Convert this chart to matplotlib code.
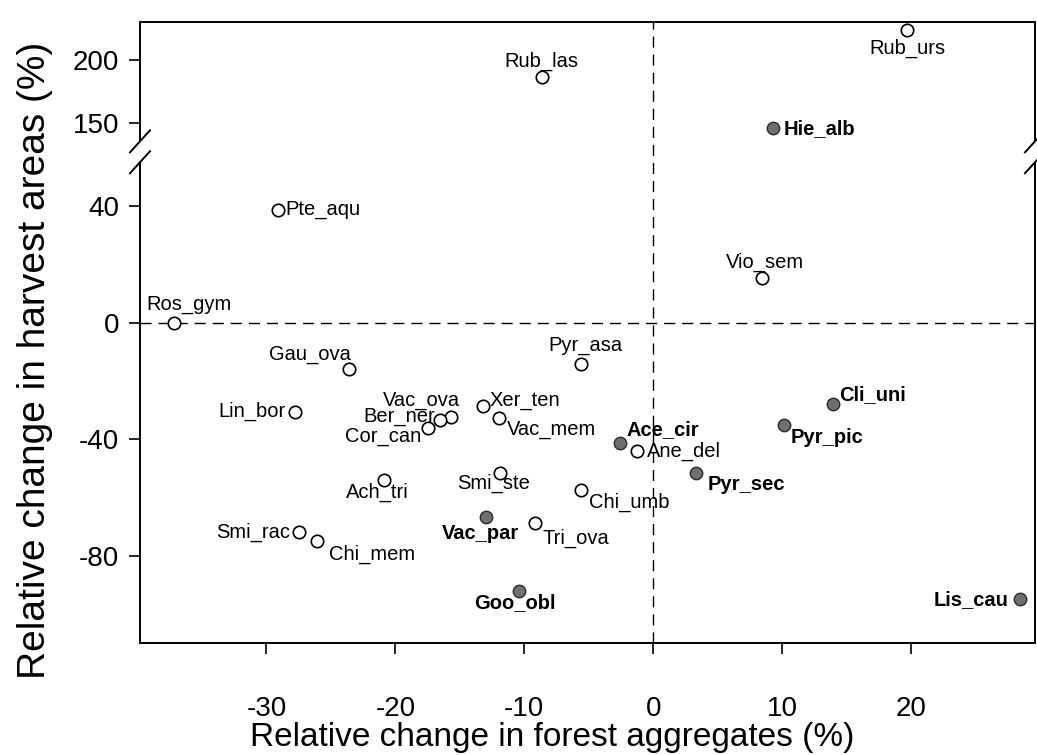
import numpy as np
import matplotlib
matplotlib.use("Agg")
import matplotlib.pyplot as plt

plt.rcParams['font.family'] = ['Liberation Sans', 'DejaVu Sans']

# species codes, relative change in forest aggregates (x) and harvest areas (y)
species = ['Rub_urs', 'Rub_las', 'Hie_alb', 'Pte_aqu', 'Vio_sem', 'Ros_gym',
           'Gau_ova', 'Pyr_asa', 'Lin_bor', 'Vac_ova', 'Ber_ner', 'Cor_can',
           'Xer_ten', 'Vac_mem', 'Ace_cir', 'Ane_del', 'Cli_uni', 'Pyr_pic',
           'Pyr_sec', 'Ach_tri', 'Smi_ste', 'Chi_umb', 'Vac_par', 'Tri_ova',
           'Smi_rac', 'Chi_mem', 'Goo_obl', 'Lis_cau']
forest = [19.7, -8.6, 9.3, -29.1, 8.4, -37.2,
          -23.6, -5.6, -27.8, -15.7, -16.5, -17.5,
          -13.2, -12.0, -2.6, -1.3, 13.9, 10.1,
          3.3, -20.9, -11.9, -5.6, -13.0, -9.2,
          -27.5, -26.1, -10.4, 28.4]
harvest = [223.1, 186.0, 145.8, 38.8, 15.4, 0.0,
           -15.8, -14.1, -30.5, -32.2, -33.3, -36.0,
           -28.5, -32.6, -41.2, -43.9, -27.8, -35.0,
           -51.5, -53.9, -51.5, -57.3, -66.6, -68.6,
           -72.0, -75.1, -92.3, -95.0]
# filled symbols (bold labels) vs open symbols
filled = [0, 0, 1, 0, 0, 0,
          0, 0, 0, 0, 0, 0,
          0, 0, 1, 0, 1, 1,
          1, 0, 0, 0, 1, 0,
          0, 0, 1, 1]

xticks = [-30, -20, -10, 0, 10, 20]
yticks = [-80, -40, 0, 40, 150, 200]

# label placement: (dx, dy) in pixels, horizontal alignment
label_pos = {
    'Rub_urs': (0, -18, 'center'), 'Rub_las': (-1, 16, 'center'),
    'Hie_alb': (10, 0, 'left'), 'Pte_aqu': (7, 0, 'left'),
    'Vio_sem': (3, 16, 'center'), 'Ros_gym': (15, 18, 'center'),
    'Gau_ova': (2, 14, 'right'), 'Pyr_asa': (4, 18, 'center'),
    'Lin_bor': (-9, 0, 'right'), 'Vac_ova': (9, 16, 'right'),
    'Ber_ner': (-5, 3, 'right'), 'Cor_can': (-6, -9, 'right'),
    'Xer_ten': (7, 5, 'left'), 'Vac_mem': (8, -12, 'left'),
    'Ace_cir': (7, 13, 'left'), 'Ane_del': (10, -1, 'left'),
    'Cli_uni': (7, 9, 'left'), 'Pyr_pic': (7, -13, 'left'),
    'Pyr_sec': (12, -12, 'left'), 'Ach_tri': (-6, -13, 'center'),
    'Smi_ste': (-6, -11, 'center'), 'Chi_umb': (8, -13, 'left'),
    'Vac_par': (-5, -17, 'center'), 'Tri_ova': (8, -16, 'left'),
    'Smi_rac': (-8, 0, 'right'), 'Chi_mem': (12, -13, 'left'),
    'Goo_obl': (-4, -11, 'center'), 'Lis_cau': (-11, 0, 'right'),
}

# broken y axis: linear below 60, compressed above 130
K = 0.435


def fwd(y):
    y = np.asarray(y, dtype=float)
    return np.where(y <= 60, y, np.where(y >= 130, 68.7 + (y - 150) * K, 60.0))


def inv(t):
    t = np.asarray(t, dtype=float)
    return np.where(t <= 60, t, 150 + (t - 68.7) / K)


fig = plt.figure(figsize=(10.37, 7.55), dpi=100)
ax = fig.add_axes([140 / 1037, 1 - 643 / 755, (1035 - 140) / 1037, (643 - 21.7) / 755])
ax.set_yscale('function', functions=(fwd, inv))
ax.set_xlim(-39.8, 29.6)
ax.set_ylim(-110, 230)

ax.axhline(0, color='black', lw=1.0, dashes=(8, 5), zorder=1)
ax.axvline(0, color='black', lw=1.0, dashes=(8, 5), zorder=1)

x = np.array(forest)
y = np.array(harvest)
f = np.array(filled, dtype=bool)
ax.scatter(x[~f], y[~f], s=80, facecolor='white', edgecolor='black', linewidth=1.2, zorder=3)
ax.scatter(x[f], y[f], s=80, facecolor='#6f6f6f', edgecolor='#2a2a2a', linewidth=1.0, zorder=3)

for name, xi, yi, fi in zip(species, forest, harvest, filled):
    dx, dy, ha = label_pos[name]
    ax.annotate(name, (xi, yi), xytext=(dx, dy), textcoords='offset pixels',
                ha=ha, va='center', fontsize=14.5,
                fontweight='bold' if fi else 'normal', zorder=4)

ax.set_xticks(xticks)
ax.set_xticklabels([str(v) for v in xticks])
ax.set_yticks(yticks)
ax.set_yticklabels([str(v) for v in yticks])
ax.minorticks_off()
ax.tick_params(axis='both', direction='out', length=8, width=1.2, labelsize=20)
ax.tick_params(axis='y', pad=7)
ax.tick_params(axis='x', pad=30)
for sp in ax.spines.values():
    sp.set_linewidth(1.4)

# axis break marks
tmin, tmax = float(fwd(-110)), float(fwd(230))
h = ax.bbox.height
w = ax.bbox.width
b1 = (55.2 - tmin) / (tmax - tmin)
b2 = (62.4 - tmin) / (tmax - tmin)
ddx = 10 / w
ddy = 11 / h
for xs in (0.0, 1.0):
    ax.plot([xs, xs], [b1, b2], transform=ax.transAxes, color='white', lw=4,
            clip_on=False, zorder=5, solid_capstyle='butt')
    for b in (b1, b2):
        ax.plot([xs - ddx, xs + ddx], [b - ddy, b + ddy], transform=ax.transAxes,
                color='black', lw=1.4, clip_on=False, zorder=6)

fig.text(552 / 1037, 1 - 746 / 755, 'Relative change in forest aggregates (%)',
         ha='center', va='baseline', fontsize=24)
fig.text(35 / 1037, 1 - 360 / 755, 'Relative change in harvest areas (%)',
         ha='center', va='center', rotation=90, fontsize=28)

fig.savefig('out.png', dpi=100)
